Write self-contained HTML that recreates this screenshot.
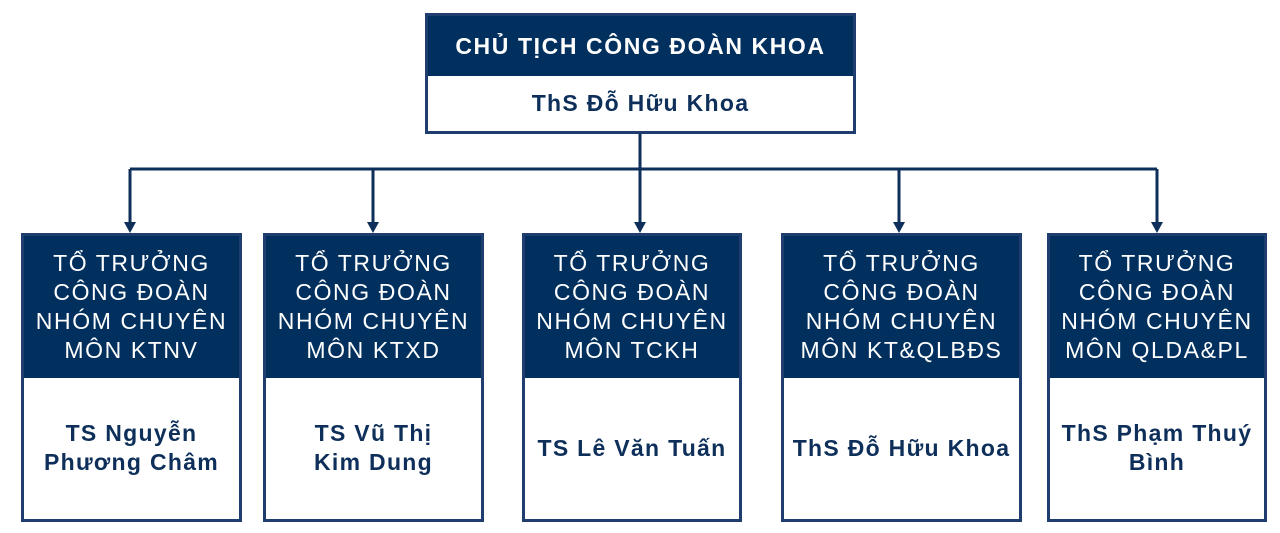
<!DOCTYPE html>
<html><head><meta charset="utf-8"><style>
body{margin:0;width:1280px;height:533px;background:#fff;position:relative;font-family:"Liberation Sans","DejaVu Sans",sans-serif;overflow:hidden}
.b{position:absolute;box-sizing:border-box;border:3px solid #1f3d6e;background:#fff}
.h{background:#02305e;color:#fff;text-align:center;display:flex;align-items:center;justify-content:center}
.n{color:#0d2f5a;font-weight:bold;text-align:center;display:flex;align-items:center;justify-content:center;letter-spacing:1.3px}
.c .h{height:142px;font-size:23px;line-height:29px;letter-spacing:1.6px}
.c .n{height:140px;font-size:23px;line-height:29px}
</style></head><body>
<div class="b" style="left:425px;top:13px;width:431px;height:121px">
<div class="h" style="height:60px;font-weight:bold;font-size:23px;letter-spacing:1.6px">CHỦ TỊCH CÔNG ĐOÀN KHOA</div>
<div class="n" style="height:55px;font-size:23px">ThS Đỗ Hữu Khoa</div></div>
<svg width="1280" height="533" style="position:absolute;left:0;top:0" fill="none">
<g stroke="#0d2f5a" stroke-width="3">
<path d="M640 134V169M130 169H1157M130 169V224M373 169V224M640 169V224M899 169V224M1157 169V224"/></g>
<g fill="#0d2f5a"><path d="M124 222h12l-6 11z"/><path d="M367 222h12l-6 11z"/><path d="M634 222h12l-6 11z"/><path d="M893 222h12l-6 11z"/><path d="M1151 222h12l-6 11z"/></g></svg>
<div class="b c" style="left:21px;top:233px;width:221px;height:289px"><div class="h">TỔ TRƯỞNG<br>CÔNG ĐOÀN<br>NHÓM CHUYÊN<br>MÔN KTNV</div><div class="n">TS Nguyễn<br>Phương Châm</div></div>
<div class="b c" style="left:263px;top:233px;width:221px;height:289px"><div class="h">TỔ TRƯỞNG<br>CÔNG ĐOÀN<br>NHÓM CHUYÊN<br>MÔN KTXD</div><div class="n">TS Vũ Thị<br>Kim Dung</div></div>
<div class="b c" style="left:522px;top:233px;width:220px;height:289px"><div class="h">TỔ TRƯỞNG<br>CÔNG ĐOÀN<br>NHÓM CHUYÊN<br>MÔN TCKH</div><div class="n">TS Lê Văn Tuấn</div></div>
<div class="b c" style="left:781px;top:233px;width:241px;height:289px"><div class="h">TỔ TRƯỞNG<br>CÔNG ĐOÀN<br>NHÓM CHUYÊN<br>MÔN KT&amp;QLBĐS</div><div class="n">ThS Đỗ Hữu Khoa</div></div>
<div class="b c" style="left:1047px;top:233px;width:220px;height:289px"><div class="h">TỔ TRƯỞNG<br>CÔNG ĐOÀN<br>NHÓM CHUYÊN<br>MÔN QLDA&amp;PL</div><div class="n">ThS Phạm Thuý<br>Bình</div></div>
</body></html>
